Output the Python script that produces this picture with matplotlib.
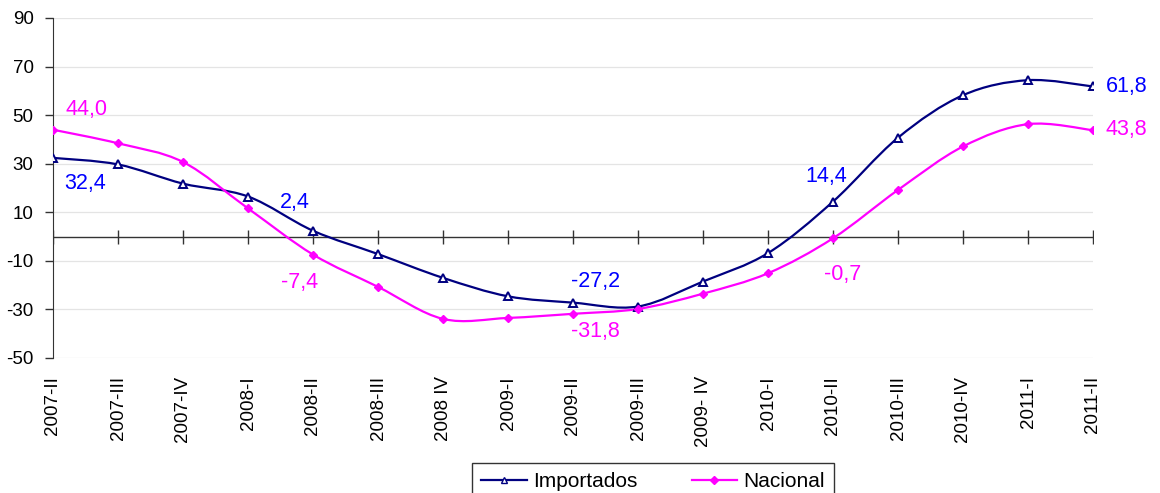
import numpy as np
import matplotlib
matplotlib.use("Agg")
import matplotlib.pyplot as plt
from matplotlib.path import Path
from matplotlib.patches import PathPatch

plt.rcParams['font.family'] = ['Liberation Sans', 'DejaVu Sans']
plt.rcParams['axes.unicode_minus'] = False

periods = ["2007-II", "2007-III", "2007-IV", "2008-I", "2008-II", "2008-III", "2008 IV",
           "2009-I", "2009-II", "2009-III", "2009- IV", "2010-I", "2010-II", "2010-III",
           "2010-IV", "2011-I", "2011-II"]
importados = [32.4, 29.7, 21.8, 16.5, 2.4, -7.2, -17.0, -24.6, -27.2, -28.8, -18.5,
              -6.8, 14.4, 40.7, 58.2, 64.4, 61.8]
nacional = [44.0, 38.4, 30.7, 11.6, -7.4, -20.7, -33.9, -33.5, -31.8, -29.8, -23.5,
            -15.1, -0.7, 19.2, 37.1, 46.3, 43.8]

# labelled points: (index, text) per series
imp_labels = [(0, "32,4"), (4, "2,4"), (8, "-27,2"), (12, "14,4"), (16, "61,8")]
nac_labels = [(0, "44,0"), (4, "-7,4"), (8, "-31,8"), (12, "-0,7"), (16, "43,8")]

NAVY = "#000080"
BLUE = "#0000ff"
MAGENTA = "#ff00ff"


def smooth_path(x, y):
    # excel-style smoothed line: cubic bezier through the points
    pts = np.column_stack([x, y]).astype(float)
    n = len(pts)
    verts = [pts[0]]
    codes = [Path.MOVETO]
    for i in range(n - 1):
        p0 = pts[i - 1] if i > 0 else pts[i]
        p1 = pts[i]
        p2 = pts[i + 1]
        p3 = pts[i + 2] if i + 2 < n else pts[i + 1]
        c1 = p1 + (p2 - p0) / 6.0
        c2 = p2 - (p3 - p1) / 6.0
        verts += [c1, c2, p2]
        codes += [Path.CURVE4] * 3
    return Path(verts, codes)


fig = plt.figure(figsize=(11.6, 4.93), dpi=100)
ax = fig.add_axes([53 / 1160, 1 - 358 / 493, 1040 / 1160, 340 / 493])

x = np.arange(len(periods))
ax.set_xlim(0, len(periods) - 1)
ax.set_ylim(-50, 90)
ax.set_yticks(np.arange(-50, 91, 20))
for yv in np.arange(-50, 91, 20):
    ax.axhline(yv, color="#e4e4e4", lw=0.9, zorder=0)

ax.add_patch(PathPatch(smooth_path(x, importados), fc="none", ec=NAVY, lw=1.6, zorder=3))
ax.add_patch(PathPatch(smooth_path(x, nacional), fc="none", ec=MAGENTA, lw=1.6, zorder=3))
ax.plot(x, importados, ls="none", marker="^", ms=5.5, mfc="white", mec=NAVY, mew=1.4, zorder=4)
ax.plot(x, nacional, ls="none", marker="D", ms=4, mfc=MAGENTA, mec=MAGENTA, zorder=4)

# zero axis with crossing ticks
ax.axhline(0, color="#333333", lw=1.0, zorder=2)
ax.plot(x, np.zeros(len(x)), ls="none", marker="|", ms=10, mew=1.0, color="#333333", zorder=2)

for s in ["top", "right", "bottom"]:
    ax.spines[s].set_visible(False)
ax.spines["left"].set_color("#333333")
ax.tick_params(axis="y", length=6, width=1, color="#333333", labelsize=13.5, pad=8)
ax.set_xticks(x)
ax.set_xticklabels(periods, rotation=90, fontsize=13.5, va="top")
ax.tick_params(axis="x", length=0, pad=13)

# data labels
imp_pos = {0: (0.17, 22.0, "left"), 4: (3.72, 14.2, "center"), 8: (8.35, -18.7, "center"),
           12: (11.9, 24.8, "center"), 16: (16.2, 61.7, "left")}
nac_pos = {0: (0.2, 52.3, "left"), 4: (3.8, -19.0, "center"), 8: (8.35, -39.2, "center"),
           12: (12.15, -15.8, "center"), 16: (16.2, 44.1, "left")}
for i, t in imp_labels:
    px, py, ha = imp_pos[i]
    ax.text(px, py, t, color=BLUE, fontsize=15.5, ha=ha, va="center", clip_on=False)
for i, t in nac_labels:
    px, py, ha = nac_pos[i]
    ax.text(px, py, t, color=MAGENTA, fontsize=15.5, ha=ha, va="center", clip_on=False)

h1, = ax.plot([], [], color=NAVY, marker="^", ms=5, mfc="white", mec=NAVY, lw=1.6)
h2, = ax.plot([], [], color=MAGENTA, marker="D", ms=4, lw=1.6)
leg = fig.legend([h1, h2], ["Importados", "Nacional"], loc="upper center",
                 bbox_to_anchor=(653 / 1160, 1 - 463 / 493), ncol=2, fontsize=15,
                 frameon=True, fancybox=False, edgecolor="black", handlelength=2.2,
                 columnspacing=2.6, borderpad=0.45, handletextpad=0.3, borderaxespad=0)
leg.get_frame().set_linewidth(1.0)

fig.savefig("out.png", dpi=100)
